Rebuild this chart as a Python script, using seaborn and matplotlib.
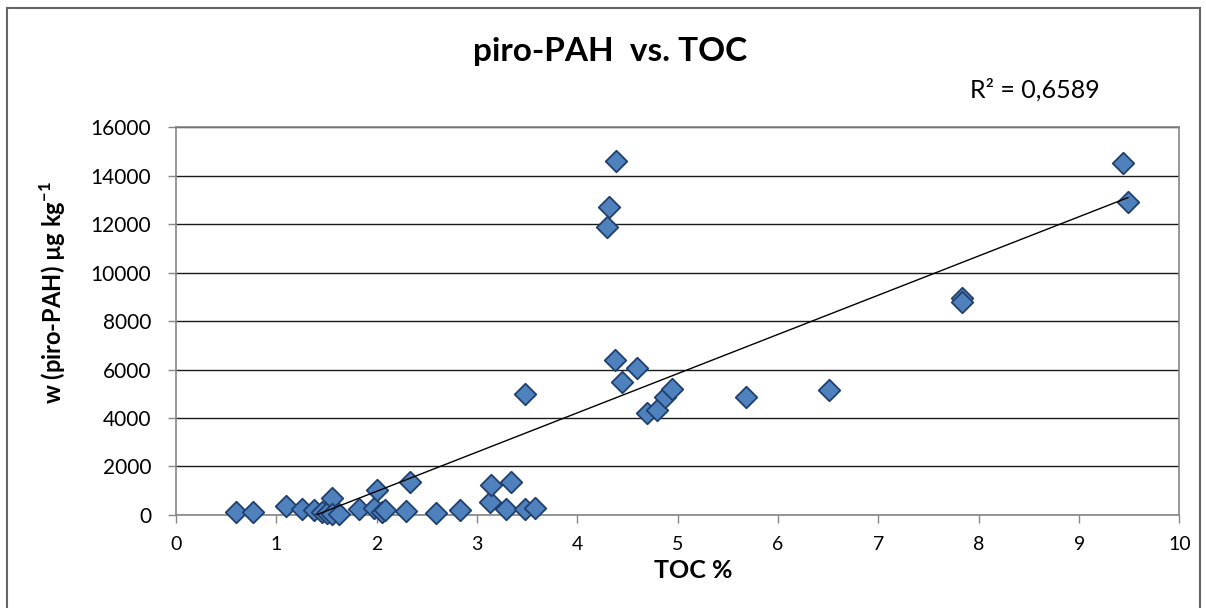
import matplotlib
matplotlib.use("Agg")
import matplotlib.pyplot as plt
import seaborn as sns
from matplotlib.patches import Rectangle

# TOC (%) and piro-PAH (ug/kg)
toc = [0.60, 0.77, 1.10, 1.25, 1.37, 1.45, 1.50, 1.55, 1.55, 1.62,
       1.82, 1.97, 2.00, 2.05, 2.08, 2.29, 2.33, 2.59, 2.83,
       3.13, 3.14, 3.29, 3.34, 3.48, 3.48, 3.58,
       4.29, 4.31, 4.38, 4.37, 4.44, 4.59, 4.69, 4.79, 4.87, 4.94,
       5.68, 6.51, 7.83, 7.83, 9.44, 9.49]
pah = [140, 110, 380, 250, 200, 120, 100, 720, 30, 30,
       260, 300, 1050, 120, 200, 180, 1370, 70, 200,
       550, 1220, 235, 1370, 4980, 235, 300,
       11860, 12710, 14600, 6390, 5500, 6050, 4190, 4350, 4850, 5200,
       4880, 5150, 8950, 8800, 14500, 12920]

x_ticks = list(range(0, 11))
y_ticks = list(range(0, 16001, 2000))

sns.set_style("white")
plt.rcParams['font.family'] = ['Lato', 'DejaVu Sans']
plt.rcParams['text.color'] = 'black'
plt.rcParams['axes.labelcolor'] = 'black'
plt.rcParams['xtick.color'] = 'black'
plt.rcParams['ytick.color'] = 'black'

fig = plt.figure(figsize=(12.06, 6.08), dpi=100)
ax = fig.add_axes([0.146, 0.153, 0.832, 0.638])

sns.regplot(x=toc, y=pah, ax=ax, ci=None, marker='D', truncate=True,
            scatter_kws=dict(s=120, color='#4f81bd', edgecolors='#1f3f6e',
                             linewidths=1.3, alpha=1, zorder=3, clip_on=False),
            line_kws=dict(color='black', lw=1, zorder=4))

ax.set_xlim(0, 10)
ax.set_ylim(0, 16000)
ax.set_xticks(x_ticks)
ax.set_yticks(y_ticks)
ax.yaxis.grid(True, color='#1a1a1a', lw=1)
ax.set_axisbelow(True)
for s in ax.spines.values():
    s.set_color('#868686')
    s.set_linewidth(1.2)
ax.tick_params(axis='both', direction='out', length=6, width=1, color='#868686',
               bottom=True, left=True)
ax.tick_params(axis='x', labelsize=14, pad=9)
ax.tick_params(axis='y', labelsize=15, pad=12)

ax.set_xlabel('TOC %', fontsize=18, fontweight='bold')
ax.set_ylabel('w (piro-PAH) µg kg$^{\\mathregular{-1}}$', fontsize=17,
              fontweight='bold')
ax.xaxis.set_label_coords(0.515, -0.142)
ax.yaxis.set_label_coords(-0.1225, 0.572)
ax.xaxis.label.set_va('center')
ax.yaxis.label.set_va('center')

fig.text(0.506, 0.915, 'piro-PAH  vs. TOC', ha='center', va='center',
         fontsize=24, fontweight='bold')
fig.text(0.858, 0.853, 'R² = 0,6589', ha='center', va='center', fontsize=18)

fig.patches.append(Rectangle((0.006, -0.1), 0.989, 1.087, transform=fig.transFigure,
                             fill=False, edgecolor='#666666', lw=1.5))

fig.savefig('out.png', dpi=100)
